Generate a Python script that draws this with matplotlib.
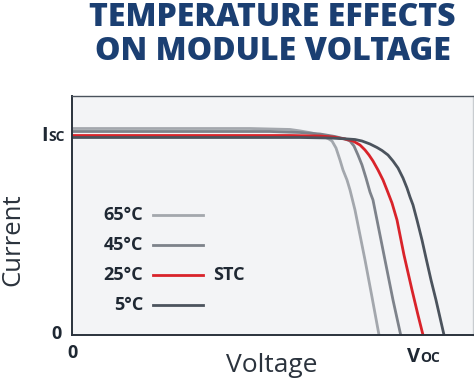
import matplotlib
matplotlib.use("Agg")
import matplotlib.pyplot as plt

# ---- data (voltage / current in % of axis range) ----
v65 = [0, 44.4, 54.36, 56.86, 59.85, 62.34, 63.84, 64.84, 65.84, 66.83, 67.58, 68.58, 69.33,
       70.57, 71.57, 73.07, 74.81, 76.56]
i65 = [86.4, 86.4, 86.0, 85.4, 84.52, 83.26, 82.22, 81.17, 78.24, 73.22, 69.04, 64.85, 60.67,
       52.3, 43.93, 31.38, 15.9, 0]

v45 = [0, 49.38, 56.86, 61.85, 65.59, 68.08, 69.33, 70.32, 71.32, 72.32, 73.32, 74.31, 75.06,
       76.06, 78.05, 80.05, 81.97]
i45 = [85.15, 85.15, 84.73, 84.1, 83.05, 82.01, 81.17, 79.08, 75.31, 71.13, 65.69, 59.83, 56.49,
       48.12, 31.38, 14.64, 0]

v25 = [0, 54.36, 61.85, 65.09, 68.08, 70.07, 71.82, 73.07, 74.06, 75.06, 76.31, 77.56, 78.55,
       79.80, 81.05, 82.79, 84.79, 86.28, 87.53]
i25 = [83.47, 83.47, 83.26, 82.85, 82.01, 81.17, 79.5, 77.41, 75.31, 72.8, 69.04, 64.85, 60.67,
       55.23, 48.12, 33.47, 18.83, 8.37, 0]

v5 = [0, 56.86, 64.34, 68.08, 70.57, 72.32, 74.31, 76.06, 77.31, 78.8, 80.05, 81.3, 82.54,
      83.54, 84.29, 85.04, 86.03, 87.28, 88.28, 89.53, 90.77, 92.77]
i5 = [82.64, 82.64, 82.43, 82.09, 81.8, 81.17, 79.92, 78.45, 77.2, 75.31, 72.8, 69.87, 65.69,
      61.51, 57.74, 54.39, 48.12, 39.75, 32.22, 23.01, 14.64, 0]

labels = ["65°C", "45°C", "25°C", "5°C"]
colors = ["#a3a7ad", "#7d828a", "#d9232a", "#4b535d"]

W, H = 474, 388


def fx(x):
    return x / W


def fy(y):
    return 1 - y / H


fig = plt.figure(figsize=(W / 100, H / 100), dpi=100)
fig.patch.set_facecolor("white")
ax = fig.add_axes([fx(72), fy(335), 401 / W, 239 / H])
ax.set_facecolor("#f3f4f6")
ax.set_xlim(0, 100)
ax.set_ylim(0, 100)

for v, i, c in zip([v65, v45, v25, v5], [i65, i45, i25, i5], colors):
    ax.plot(v, i, color=c, lw=2.0, solid_capstyle="butt", solid_joinstyle="round")

for s in ax.spines.values():
    s.set_color("#2a323c")
    s.set_linewidth(1.4)
ax.spines["top"].set_color("#4a525c")
ax.spines["top"].set_linewidth(1.0)
ax.spines["right"].set_color("#c8ccd0")
ax.spines["right"].set_linewidth(1.0)
ax.set_xticks([])
ax.set_yticks([])

dark = "#1f2833"
bold = dict(family="Open Sans", fontweight="bold", color=dark)

# tick-like labels
fig.text(fx(47.5), fy(140.5), "I", ha="right", va="baseline", fontsize=14.5, **bold)
fig.text(fx(48.5), fy(140.5), "SC", ha="left", va="baseline", fontsize=10, **bold)
fig.text(fx(57), fy(334), "0", ha="center", va="center", fontsize=13, **bold)
fig.text(fx(72.5), fy(353.5), "0", ha="center", va="center", fontsize=13, **bold)
fig.text(fx(407), fy(362), "V", ha="left", va="baseline", fontsize=14.5, **bold)
fig.text(fx(420), fy(362), "OC", ha="left", va="baseline", fontsize=10, **bold)

# legend
leg_y = [215, 245, 275, 305]
for lab, c, y in zip(labels, colors, leg_y):
    fig.lines.append(plt.Line2D([fx(153), fx(203)], [fy(y), fy(y)], transform=fig.transFigure,
                                color=c, lw=2.0))
    fig.text(fx(143), fy(y), lab, ha="right", va="center", fontsize=13, **bold)
fig.text(fx(213), fy(leg_y[2]), "STC", ha="left", va="center", fontsize=13, **bold)

# axis labels
fig.text(fx(13), fy(240), "Current", rotation=90, ha="center", va="center",
         family="Open Sans", color="#2b333d", fontsize=18.5)
fig.text(fx(272), fy(365), "Voltage", ha="center", va="center",
         family="Open Sans", color="#2b333d", fontsize=19)

# title
title_kw = dict(ha="center", va="center", family="Open Sans", fontweight=800,
                color="#1b3f72", fontsize=23)
fig.text(fx(272), fy(18), "TEMPERATURE EFFECTS", **title_kw)
fig.text(fx(273), fy(52), "ON MODULE VOLTAGE", **title_kw)

fig.savefig("out.png", dpi=100)
